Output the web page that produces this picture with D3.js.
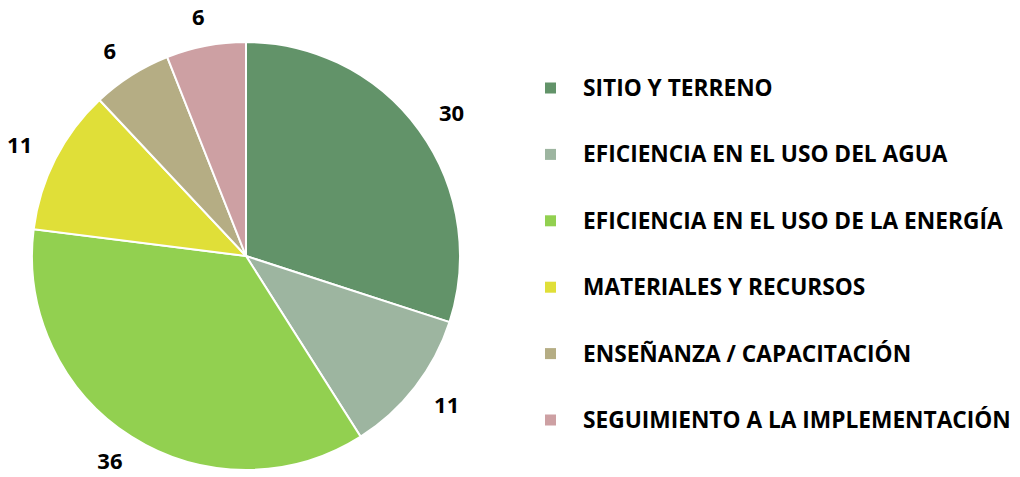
<!DOCTYPE html>
<html><head><meta charset="utf-8">
<script src="https://cdn.jsdelivr.net/npm/d3@7"></script>
<style>body{margin:0;background:#fff;}svg{display:block;}</style>
</head><body>
<svg id="c" width="1020" height="477"></svg>
<script>
const categories = ["SITIO Y TERRENO","EFICIENCIA EN EL USO DEL AGUA","EFICIENCIA EN EL USO DE LA ENERGÍA","MATERIALES Y RECURSOS","ENSEÑANZA / CAPACITACIÓN","SEGUIMIENTO A LA IMPLEMENTACIÓN"];
const values = [30, 11, 36, 11, 6, 6];
const colors = ["#629369","#9DB5A0","#92D050","#E0DF38","#B5AD84","#CDA0A3"];

const svg = d3.select("#c");
const cx = 246, cy = 256, R = 214, labelRx = 254, labelRy = 243;
const pie = d3.pie().sort(null).value(d => d)(values);
const arc = d3.arc().innerRadius(0).outerRadius(R);
const g = svg.append("g").attr("transform", `translate(${cx},${cy})`);
g.selectAll("path").data(pie).join("path")
  .attr("d", arc).attr("fill", (d,i) => colors[i])
  .attr("stroke", "#fff").attr("stroke-width", 2);

// data labels outside the pie edge
g.selectAll("text").data(pie).join("text")
  .attr("x", d => labelRx * Math.sin((d.startAngle + d.endAngle) / 2))
  .attr("y", d => -labelRy * Math.cos((d.startAngle + d.endAngle) / 2))
  .attr("text-anchor", "middle").attr("dy", "0.35em")
  .attr("font-family", "'Open Sans', sans-serif").attr("font-weight", "bold")
  .attr("font-size", 22).attr("fill", "#000")
  .text(d => d.data);

const ly = d3.scalePoint().domain(categories).range([88, 420]);
const lg = svg.append("g");
const items = lg.selectAll("g").data(categories).join("g")
  .attr("transform", d => `translate(545,${ly(d)})`);
items.append("rect").attr("x", 0).attr("y", -5.5).attr("width", 11).attr("height", 11)
  .attr("fill", (d,i) => colors[i]);
items.append("text").attr("x", 38).attr("dy", "0.35em")
  .attr("font-family", "'Open Sans', sans-serif").attr("font-weight", "bold")
  .attr("font-size", 22.7).attr("fill", "#000").text(d => d);
</script>
</body></html>
